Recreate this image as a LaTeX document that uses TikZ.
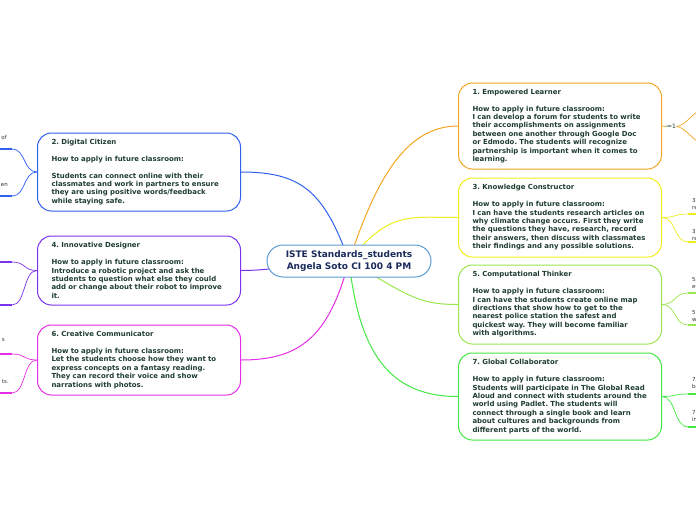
\documentclass[tikz,border=0pt]{standalone}
\usepackage{fontspec}
\setmainfont{DejaVu Sans}
\usetikzlibrary{backgrounds}
\definecolor{txt}{HTML}{1E3D2E}
\definecolor{navy}{HTML}{1A2B5C}
\definecolor{cblue}{HTML}{5B9BD5}
\definecolor{corange}{HTML}{F5A623}
\definecolor{cyellow}{HTML}{EEEE1E}
\definecolor{clime}{HTML}{99E64D}
\definecolor{cgreen}{HTML}{44E844}
\definecolor{cdblue}{HTML}{2F62EE}
\definecolor{cpurple}{HTML}{7A33EE}
\definecolor{cmagenta}{HTML}{E62EE6}
\definecolor{stubtxt}{HTML}{333333}
\tikzset{
  topic/.style={draw=#1, line width=1pt, rounded corners=14pt, fill=white,
    text width=182pt, align=left, inner xsep=10.5pt, inner ysep=0pt, anchor=west,
    font=\frenchspacing\bfseries\fontsize{6.95}{8.4}\selectfont, text=txt},
  central/.style={draw=cblue, line width=1pt, rounded corners=16pt, fill=white,
    minimum width=164pt, minimum height=32pt, align=center, inner sep=0pt,
    font=\frenchspacing\bfseries\fontsize{9}{12}\selectfont, text=navy},
  link/.style={draw=#1, line width=1pt},
  twig/.style={draw=#1, line width=0.7pt},
  stub/.style={draw=#1, line width=2pt},
  stubtext/.style={font=\fontsize{5.5}{7}\selectfont, text=stubtxt, inner sep=0pt, align=left}
}
\begin{document}
\begin{tikzpicture}[x=1pt,y=-1pt]
\useasboundingbox (0,0) rectangle (696,520);

\node[central] (c) at (349,261) {ISTE Standards\_students\\Angela Soto CI 100 4 PM};

\node[topic=corange, minimum height=86pt] (n1) at (458,126) {\hspace*{3.5pt}1. Empowered Learner\\[8.4pt]
\hspace*{3.5pt}How to apply in future classroom:\\
\hspace*{3.5pt}I can develop a forum for students to write\\
\hspace*{3.5pt}their accomplishments on assignments\\
\hspace*{3.5pt}between one another through Google Doc\\
\hspace*{3.5pt}or Edmodo. The students will recognize\\
\hspace*{3.5pt}partnership is important when it comes to\\
\hspace*{3.5pt}learning.};

\node[topic=cyellow, minimum height=79pt] (n3) at (458,217.5) {\hspace*{3.5pt}3. Knowledge Constructor\\[8.4pt]
\hspace*{3.5pt}How to apply in future classroom:\\
\hspace*{3.5pt}I can have the students research articles on\\
\hspace*{3.5pt}why climate change occurs. First they write\\
\hspace*{3.5pt}the questions they have, research, record\\
\hspace*{3.5pt}their answers, then discuss with classmates\\
\hspace*{3.5pt}their findings and any possible solutions.};

\node[topic=clime, minimum height=79pt] (n5) at (458,304.5) {\hspace*{3.5pt}5. Computational Thinker\\[8.4pt]
\hspace*{3.5pt}How to apply in future classroom:\\
\hspace*{3.5pt}I can have the students create online map\\
\hspace*{3.5pt}directions that show how to get to the\\
\hspace*{3.5pt}nearest police station the safest and\\
\hspace*{3.5pt}quickest way. They will become familiar\\
\hspace*{3.5pt}with algorithms.};

\node[topic=cgreen, minimum height=87pt] (n7) at (458,396.5) {\hspace*{3.5pt}7. Global Collaborator\\[8.4pt]
\hspace*{3.5pt}How to apply in future classroom:\\
\hspace*{3.5pt}Students will participate in The Global Read\\
\hspace*{3.5pt}Aloud and connect with students around the\\
\hspace*{3.5pt}world using Padlet. The students will\\
\hspace*{3.5pt}connect through a single book and learn\\
\hspace*{3.5pt}about cultures and backgrounds from\\
\hspace*{3.5pt}different parts of the world.};

\node[topic=cdblue, minimum height=78pt] (n2) at (37,172) {\hspace*{3.5pt}2. Digital Citizen\\[8.4pt]
\hspace*{3.5pt}How to apply in future classroom:\\[8.4pt]
\hspace*{3.5pt}Students can connect online with their\\
\hspace*{3.5pt}classmates and work in partners to ensure\\
\hspace*{3.5pt}they are using positive words/feedback\\
\hspace*{3.5pt}while staying safe.};

\node[topic=cpurple, minimum height=69pt] (n4) at (37,270.5) {\hspace*{3.5pt}4. Innovative Designer\\[8.4pt]
\hspace*{3.5pt}How to apply in future classroom:\\
\hspace*{3.5pt}Introduce a robotic project and ask the\\
\hspace*{3.5pt}students to question what else they could\\
\hspace*{3.5pt}add or change about their robot to improve\\
\hspace*{3.5pt}it.};

\node[topic=cmagenta, minimum height=70pt] (n6) at (37,360) {\hspace*{3.5pt}6. Creative Communicator\\[8.4pt]
\hspace*{3.5pt}How to apply in future classroom:\\
\hspace*{3.5pt}Let the students choose how they want to\\
\hspace*{3.5pt}express concepts on a fantasy reading.\\
\hspace*{3.5pt}They can record their voice and show\\
\hspace*{3.5pt}narrations with photos.};

% icon next to node 1
\node[font=\fontsize{6}{6}\selectfont, text=txt, inner sep=0pt, anchor=west] (icon) at (666,126.5) {≔1};

% stub end points
\coordinate (o1) at (697,112);
\coordinate (o2) at (697,141);
\coordinate (y1) at (688,214);  \coordinate (y1e) at (697,214);
\coordinate (y2) at (688,242);  \coordinate (y2e) at (697,242);
\coordinate (l1) at (688,293);  \coordinate (l1e) at (697,293);
\coordinate (l2) at (688,325);  \coordinate (l2e) at (697,325);
\coordinate (g1) at (688,394);  \coordinate (g1e) at (697,394);
\coordinate (g2) at (688,427);  \coordinate (g2e) at (697,427);
\coordinate (b1) at (12,149);   \coordinate (b1e) at (-1,149);
\coordinate (b2) at (12,196);   \coordinate (b2e) at (-1,196);
\coordinate (p1) at (12,262);   \coordinate (p1e) at (-1,262);
\coordinate (p2) at (12,305);   \coordinate (p2e) at (-1,305);
\coordinate (m1) at (12,354);   \coordinate (m1e) at (-1,354);
\coordinate (m2) at (12,393);   \coordinate (m2e) at (-1,393);

% stub texts
\node[stubtext, anchor=south east] (tb1) at (7,140) {of};
\node[stubtext, anchor=south east] (tb2) at (8,187) {en};
\node[stubtext, anchor=south east] (tm1) at (5,342) {s};
\node[stubtext, anchor=south east] (tm2) at (9,384) {ts.};
\node[stubtext, anchor=north west] (ty1) at (692,198) {3a\\re};
\node[stubtext, anchor=north west] (ty2) at (692,229) {3b\\re};
\node[stubtext, anchor=north west] (tl1) at (692,277) {5a\\ec};
\node[stubtext, anchor=north west] (tl2) at (692,310) {5b\\w};
\node[stubtext, anchor=north west] (tg1) at (692,377) {7a\\bo};
\node[stubtext, anchor=north west] (tg2) at (692,410) {7b\\in};

\begin{pgfonlayer}{background}
\fill[white] (0,0) rectangle (696,520);
% main connectors
\draw[link=corange] (c.center) .. controls +(25,-75) and +(-55,0) .. (n1.west);
\draw[link=cyellow] (c.center) .. controls +(40,-50) and +(-50,0) .. (n3.west);
\draw[link=clime] (c.center) .. controls +(60,35) and +(-40,0) .. (n5.west);
\draw[link=cgreen] (c.center) .. controls +(10,90) and +(-70,0) .. (n7.west);
\draw[link=cdblue] (c.center) .. controls +(-25,-70) and +(60,0) .. (n2.east);
\draw[link=cpurple] (c.center) .. controls +(-40,0) and +(40,0) .. (n4.east);
\draw[link=cmagenta] (c.center) .. controls +(-20,75) and +(60,0) .. (n6.east);
% node 1 fork
\draw[twig=corange] (n1.east) -- (icon.west);
\draw[twig=corange] (icon.east) .. controls +(7,0) and +(-6,4) .. (o1);
\draw[twig=corange] (icon.east) .. controls +(7,0) and +(-6,-4) .. (o2);
% right twigs
\draw[twig=cyellow] (n3.east) .. controls +(14,0) and +(-14,0) .. (y1);
\draw[twig=cyellow] (n3.east) .. controls +(14,0) and +(-14,0) .. (y2);
\draw[stub=cyellow] (y1) -- (y1e);
\draw[stub=cyellow] (y2) -- (y2e);
\draw[twig=clime] (n5.east) .. controls +(14,0) and +(-14,0) .. (l1);
\draw[twig=clime] (n5.east) .. controls +(14,0) and +(-14,0) .. (l2);
\draw[stub=clime] (l1) -- (l1e);
\draw[stub=clime] (l2) -- (l2e);
\draw[twig=cgreen] (n7.east) .. controls +(14,0) and +(-14,0) .. (g1);
\draw[twig=cgreen] (n7.east) .. controls +(14,0) and +(-14,0) .. (g2);
\draw[stub=cgreen] (g1) -- (g1e);
\draw[stub=cgreen] (g2) -- (g2e);
% left twigs
\draw[twig=cdblue] (n2.west) .. controls +(-14,0) and +(14,0) .. (b1);
\draw[twig=cdblue] (n2.west) .. controls +(-14,0) and +(14,0) .. (b2);
\draw[stub=cdblue] (b1) -- (b1e);
\draw[stub=cdblue] (b2) -- (b2e);
\draw[twig=cpurple] (n4.west) .. controls +(-14,0) and +(14,0) .. (p1);
\draw[twig=cpurple] (n4.west) .. controls +(-14,0) and +(14,0) .. (p2);
\draw[stub=cpurple] (p1) -- (p1e);
\draw[stub=cpurple] (p2) -- (p2e);
\draw[twig=cmagenta] (n6.west) .. controls +(-14,0) and +(14,0) .. (m1);
\draw[twig=cmagenta] (n6.west) .. controls +(-14,0) and +(14,0) .. (m2);
\draw[stub=cmagenta] (m1) -- (m1e);
\draw[stub=cmagenta] (m2) -- (m2e);
\end{pgfonlayer}
\end{tikzpicture}
\end{document}
